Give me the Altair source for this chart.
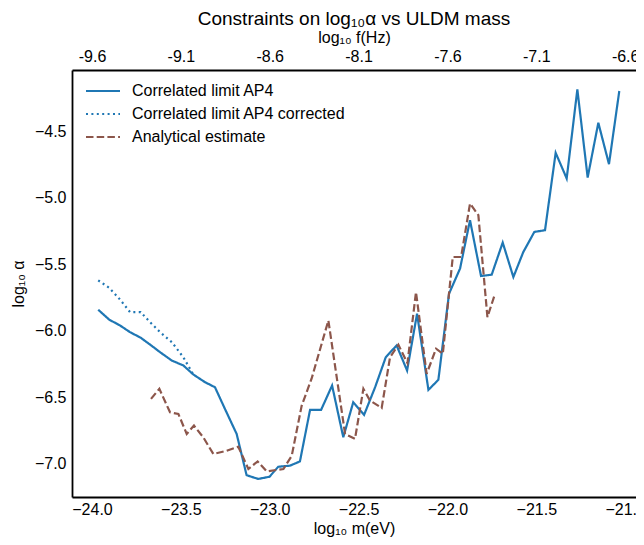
import altair as alt
import pandas as pd

series_names = ["Correlated limit AP4", "Correlated limit AP4 corrected", "Analytical estimate"]
series_colors = ["#1f77b4", "#1f77b4", "#8c564b"]
series_dashes = [[1, 0], [2, 3.4], [7.5, 3.2]]

ap4_m = [-23.965, -23.903, -23.843, -23.786, -23.726, -23.674, -23.617, -23.551, -23.486, -23.430,
         -23.364, -23.308, -23.252, -23.186, -23.130, -23.064, -23.001, -22.952, -22.886, -22.830,
         -22.773, -22.711, -22.649, -22.586, -22.530, -22.469, -22.407, -22.347, -22.286, -22.227,
         -22.171, -22.107, -22.051, -21.991, -21.929, -21.873, -21.811, -21.751, -21.689, -21.629,
         -21.573, -21.511, -21.451, -21.391, -21.329, -21.269, -21.211, -21.151, -21.091, -21.033]
ap4_alpha = [-5.842, -5.917, -5.960, -6.011, -6.053, -6.104, -6.162, -6.225, -6.262, -6.330,
             -6.388, -6.426, -6.589, -6.778, -7.089, -7.117, -7.100, -7.025, -7.017, -6.985,
             -6.597, -6.597, -6.413, -6.803, -6.539, -6.634, -6.426, -6.200, -6.111, -6.300,
             -5.872, -6.446, -6.370, -5.721, -5.532, -5.168, -5.588, -5.578, -5.336, -5.596,
             -5.407, -5.256, -5.243, -4.660, -4.853, -4.182, -4.846, -4.434, -4.745, -4.194]

corr_m = [-23.965, -23.903, -23.843, -23.786, -23.726, -23.674, -23.617, -23.551, -23.486, -23.430]
corr_alpha = [-5.621, -5.677, -5.764, -5.860, -5.860, -5.935, -6.011, -6.086, -6.200, -6.330]

est_m = [-23.668, -23.621, -23.561, -23.514, -23.467, -23.426, -23.374, -23.317, -23.242, -23.177,
         -23.120, -23.068, -23.017, -22.923, -22.876, -22.820, -22.764, -22.670, -22.576, -22.520,
         -22.473, -22.436, -22.370, -22.323, -22.276, -22.225, -22.177, -22.117, -22.064, -22.026,
         -21.970, -21.923, -21.873, -21.826, -21.775, -21.732]
est_alpha = [-6.514, -6.438, -6.615, -6.627, -6.778, -6.715, -6.803, -6.929, -6.904, -6.874,
             -7.042, -6.985, -7.060, -7.042, -6.942, -6.564, -6.360, -5.923, -6.778, -6.815,
             -6.438, -6.526, -6.582, -6.200, -6.106, -6.245, -5.709, -6.325, -6.136, -6.174,
             -5.445, -5.445, -5.042, -5.130, -5.898, -5.721]

x_ticks = [-24.0, -23.5, -23.0, -22.5, -22.0, -21.5, -21.0]
y_ticks = [-7.0, -6.5, -6.0, -5.5, -5.0, -4.5]
freq_offset = 14.4  # log10 f(Hz) = log10 m(eV) + 14.4

rows = []
for name, ms, als in zip(series_names, [ap4_m, corr_m, est_m], [ap4_alpha, corr_alpha, est_alpha]):
    for i, (m, a) in enumerate(zip(ms, als)):
        rows.append({"series": name, "m": m, "alpha": a, "idx": i})
df = pd.DataFrame(rows)

FONT = "Liberation Sans"
x_scale = alt.Scale(domain=[-24.1125, -20.939], nice=False, zero=False)
y_scale = alt.Scale(domain=[-7.253, -4.036], nice=False, zero=False)

y_enc = alt.Y("alpha:Q", scale=y_scale,
              axis=alt.Axis(values=y_ticks, format=".1f", title="log₁₀ α",
                            labelPadding=6, titlePadding=8))

legend = alt.Legend(title=None, orient="none", legendX=23, legendY=13,
                    symbolType="M-2.5,0H2.5", symbolSize=185, symbolStrokeWidth=2.2,
                    symbolFillColor="transparent",
                    labelFontSize=16, labelFont=FONT, labelColor="black", labelOffset=21,
                    labelLimit=400, rowPadding=7, padding=0)

lines = alt.Chart(df).mark_line(strokeWidth=2.2, strokeCap="butt").encode(
    x=alt.X("m:Q", scale=x_scale,
            axis=alt.Axis(orient="bottom", values=x_ticks, format=".1f", title="log₁₀ m(eV)",
                          labelPadding=4, titlePadding=3)),
    y=y_enc,
    color=alt.Color("series:N", scale=alt.Scale(domain=series_names, range=series_colors), legend=legend),
    strokeDash=alt.StrokeDash("series:N", scale=alt.Scale(domain=series_names, range=series_dashes), legend=legend),
    order="idx:Q",
)

top = alt.Chart(df).mark_point(opacity=0).encode(
    x=alt.X("m:Q", scale=x_scale,
            axis=alt.Axis(orient="top", values=x_ticks, title="log₁₀ f(Hz)",
                          labelExpr=f"replace(format(datum.value + {freq_offset}, '.1f'), '\u2212', '-')",
                          labelPadding=6, titlePadding=3)),
    y=y_enc,
)

chart = alt.layer(lines, top).resolve_axis(x="independent").properties(
    width=564, height=427,
    autosize=alt.AutoSizeParams(type="none"),
    padding={"left": 64, "top": 62, "right": 0, "bottom": 40},
    title=alt.TitleParams("Constraints on log₁₀α vs ULDM mass", fontSize=19, fontWeight="normal",
                          font=FONT, color="black", offset=0),
).configure_view(stroke=None).configure_axis(
    grid=False, ticks=False, domainColor="black", domainWidth=1.8,
    labelFont=FONT, titleFont=FONT, labelFontSize=16, titleFontSize=16,
    titleFontWeight="normal", labelColor="black", titleColor="black",
)

chart.save("out.html", embed_options={"renderer": "svg", "actions": False})
